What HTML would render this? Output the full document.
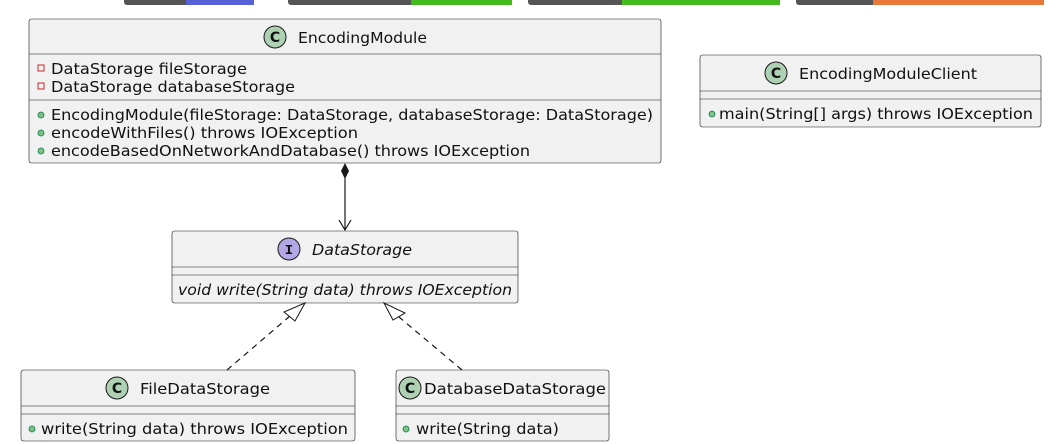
<!DOCTYPE html>
<html><head><meta charset="utf-8"><style>
html,body{margin:0;padding:0;background:#fff;width:1054px;height:444px;overflow:hidden}
text{font-family:"DejaVu Sans","Liberation Sans",sans-serif;font-size:15px;fill:#111}
</style></head><body>
<svg width="1054" height="444" viewBox="0 0 1054 444" xmlns="http://www.w3.org/2000/svg">
<rect x="124" y="-6" width="130" height="11" rx="3" fill="#555"/><rect x="186" y="-6" width="68" height="11" fill="#5661d8"/>
<rect x="288" y="-6" width="224" height="11" rx="3" fill="#555"/><rect x="411" y="-6" width="101" height="11" fill="#44bb1c"/>
<rect x="528" y="-6" width="252" height="11" rx="3" fill="#555"/><rect x="622" y="-6" width="158" height="11" fill="#44bb1c"/>
<rect x="796" y="-6" width="248" height="11" rx="3" fill="#555"/><rect x="873" y="-6" width="171" height="11" fill="#e87838"/>

<g stroke="#181818" stroke-width="0.6" fill="#f1f1f1">
<rect x="29" y="19" width="632" height="144" rx="2.5"/>
<line x1="29" y1="54" x2="661" y2="54"/><line x1="29" y1="100" x2="661" y2="100"/>
<rect x="700" y="55" width="341" height="72" rx="2.5"/>
<line x1="700" y1="91" x2="1041" y2="91"/><line x1="700" y1="99" x2="1041" y2="99"/>
<rect x="172" y="231" width="346" height="72" rx="2.5"/>
<line x1="172" y1="267" x2="518" y2="267"/><line x1="172" y1="275" x2="518" y2="275"/>
<rect x="21" y="370" width="334" height="71" rx="2.5"/>
<line x1="21" y1="406" x2="355" y2="406"/><line x1="21" y1="414" x2="355" y2="414"/>
<rect x="396" y="370" width="213" height="71" rx="2.5"/>
<line x1="396" y1="406" x2="609" y2="406"/><line x1="396" y1="414" x2="609" y2="414"/>
</g>

<g stroke="#181818" stroke-width="1">
<circle cx="275" cy="37" r="11" fill="#add1b2"/>
<circle cx="776" cy="73" r="11" fill="#add1b2"/>
<circle cx="289" cy="249" r="11" fill="#b4a7e5"/>
<circle cx="117" cy="388" r="11" fill="#add1b2"/>
<circle cx="410" cy="388" r="11" fill="#add1b2"/>
</g>
<g text-anchor="middle">
<text x="275" y="42" style="font-size:14px;font-weight:bold">C</text>
<text x="776" y="78" style="font-size:14px;font-weight:bold">C</text>
<text x="289" y="254" style="font-size:14px;font-weight:bold;font-family:'Liberation Mono',monospace">I</text>
<text x="117" y="393" style="font-size:14px;font-weight:bold">C</text>
<text x="410" y="393" style="font-size:14px;font-weight:bold">C</text>
</g>

<g style="font-size:15.5px">
<text x="298" y="43" textLength="129" lengthAdjust="spacingAndGlyphs">EncodingModule</text>
<text x="799" y="79" textLength="178" lengthAdjust="spacingAndGlyphs">EncodingModuleClient</text>
<text x="312" y="255" textLength="100" lengthAdjust="spacingAndGlyphs" font-style="italic">DataStorage</text>
<text x="140" y="394" textLength="130" lengthAdjust="spacingAndGlyphs">FileDataStorage</text>
<text x="424" y="394" textLength="182" lengthAdjust="spacingAndGlyphs">DatabaseDataStorage</text>
</g>

<g fill="none" stroke="#c82930" stroke-width="1"><rect x="38" y="65" width="6" height="6"/><rect x="38" y="83" width="6" height="6"/></g>
<g fill="#84be84" stroke="#038048" stroke-width="0.8">
<circle cx="41" cy="115" r="3"/><circle cx="41" cy="133" r="3"/><circle cx="41" cy="151" r="3"/>
<circle cx="712" cy="114" r="3"/><circle cx="32" cy="429" r="3"/><circle cx="406" cy="429" r="3"/>
</g>
<text x="51" y="74" textLength="196" lengthAdjust="spacingAndGlyphs">DataStorage fileStorage</text>
<text x="51" y="92" textLength="244" lengthAdjust="spacingAndGlyphs">DataStorage databaseStorage</text>
<text x="51" y="120" textLength="602" lengthAdjust="spacingAndGlyphs">EncodingModule(fileStorage: DataStorage, databaseStorage: DataStorage)</text>
<text x="51" y="138" textLength="307" lengthAdjust="spacingAndGlyphs">encodeWithFiles() throws IOException</text>
<text x="51" y="156" textLength="479" lengthAdjust="spacingAndGlyphs">encodeBasedOnNetworkAndDatabase() throws IOException</text>
<text x="719" y="119" textLength="314" lengthAdjust="spacingAndGlyphs">main(String[] args) throws IOException</text>
<text x="178" y="295" textLength="334" lengthAdjust="spacingAndGlyphs" font-style="italic">void write(String data) throws IOException</text>
<text x="41" y="434" textLength="307" lengthAdjust="spacingAndGlyphs">write(String data) throws IOException</text>
<text x="416" y="434" textLength="143" lengthAdjust="spacingAndGlyphs">write(String data)</text>

<g stroke="#181818" stroke-width="1.2" fill="none">
<line x1="345" y1="178" x2="345" y2="230"/>
<polyline points="339,220 345,230 351,220"/>
<line x1="227" y1="370" x2="290" y2="316" stroke-dasharray="6,5"/>
<line x1="462" y1="370" x2="399" y2="317" stroke-dasharray="6,5"/>
</g>
<polygon points="345,163 349,171 345,179 341,171" fill="#181818"/>
<polygon points="305,303 284,312 295,321" fill="#fff" stroke="#181818" stroke-width="1"/>
<polygon points="384,303 393,320 405,313" fill="#fff" stroke="#181818" stroke-width="1"/>
</svg>
</body></html>
